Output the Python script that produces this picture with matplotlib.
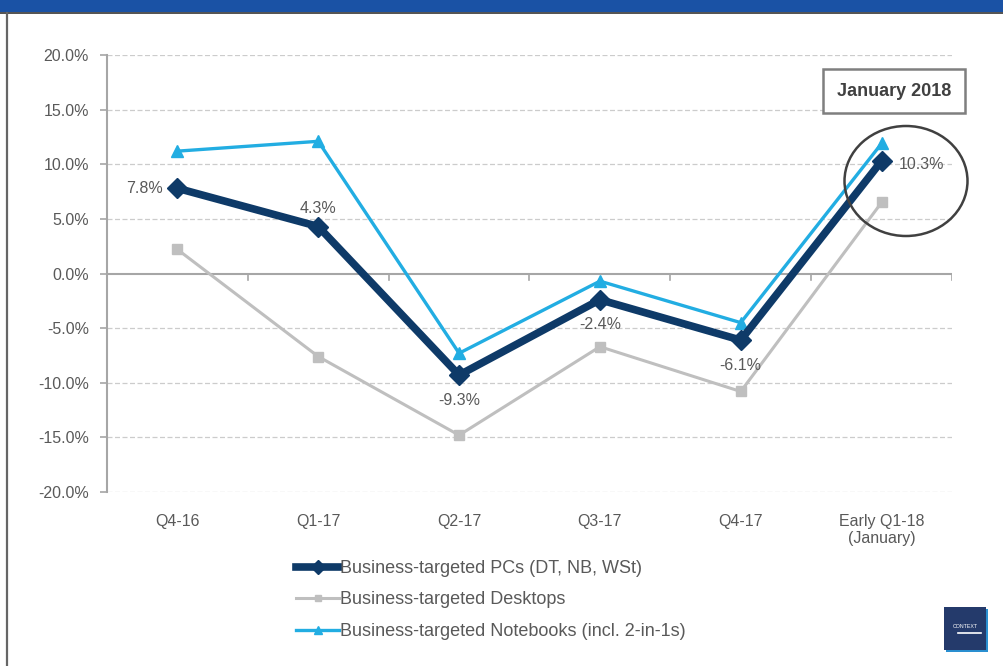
import matplotlib
matplotlib.use("Agg")
import matplotlib.pyplot as plt
from matplotlib.patches import Rectangle, Ellipse
from matplotlib.lines import Line2D

plt.rcParams['font.family'] = ['Liberation Sans', 'DejaVu Sans']

categories = ["Q4-16", "Q1-17", "Q2-17", "Q3-17", "Q4-17", "Early Q1-18\n(January)"]
pcs = [7.8, 4.3, -9.3, -2.4, -6.1, 10.3]
desktops = [2.2, -7.6, -14.8, -6.7, -10.8, 6.5]
notebooks = [11.2, 12.1, -7.3, -0.7, -4.5, 11.9]
pc_labels = ["7.8%", "4.3%", "-9.3%", "-2.4%", "-6.1%", "10.3%"]
yticks = [20, 15, 10, 5, 0, -5, -10, -15, -20]
series_names = ["Business-targeted PCs (DT, NB, WSt)",
                "Business-targeted Desktops",
                "Business-targeted Notebooks (incl. 2-in-1s)"]

C_PC = "#0e3a68"
C_DT = "#bfbfbf"
C_NB = "#22ade2"
TXT = "#595959"

fig = plt.figure(figsize=(10.04, 6.66), dpi=100)
fig.patch.set_facecolor("white")

# top banner and frame lines
fig.add_artist(Rectangle((0, 1 - 12/666), 1, 12/666, transform=fig.transFigure,
                         facecolor="#1a52a5", edgecolor="none"))
fig.add_artist(Line2D([0, 1], [1 - 13/666, 1 - 13/666], transform=fig.transFigure,
                      color="#333333", lw=1.2))
fig.add_artist(Line2D([6.5/1004, 6.5/1004], [0, 1 - 13/666], transform=fig.transFigure,
                      color="#666666", lw=1.6))

ax = fig.add_axes([107/1004, 1 - 492/666, (952 - 107)/1004, (492 - 55)/666])
x = list(range(len(categories)))

ax.set_xlim(-0.5, len(categories) - 0.5)
ax.set_ylim(-20, 20)

for y in yticks:
    if y == 0:
        ax.axhline(0, color="#a6a6a6", lw=1.5, zorder=1)
    else:
        ax.axhline(y, color="#cccccc", lw=0.9, ls=(0, (4, 2)), zorder=1)

# category boundary ticks on zero line
for b in range(len(categories) + 1):
    ax.plot([b - 0.5, b - 0.5], [0, -0.6], color="#a6a6a6", lw=1.2, zorder=1)

ax.plot(x, desktops, color=C_DT, lw=2.2, marker="s", ms=7, zorder=3, label=series_names[1])
ax.plot(x, notebooks, color=C_NB, lw=2.4, marker="^", ms=8, zorder=4, label=series_names[2])
ax.plot(x, pcs, color=C_PC, lw=5.5, marker="D", ms=10, zorder=5, label=series_names[0])

offsets = [(-0.1, 0, "right", "center"), (0, 1.0, "center", "bottom"),
           (0, -1.6, "center", "top"), (0, -1.6, "center", "top"),
           (0, -1.6, "center", "top"), (0.12, -0.3, "left", "center")]
for xi, yi, lab, (dx, dy, ha, va) in zip(x, pcs, pc_labels, offsets):
    ax.text(xi + dx, yi + dy, lab, ha=ha, va=va, fontsize=11.5, color=TXT, zorder=6)

ax.set_yticks(yticks)
ax.set_yticklabels([f"{v:.1f}%" for v in yticks], fontsize=11.5, color=TXT)
ax.set_xticks(x)
ax.set_xticklabels(categories, fontsize=11.5, color=TXT, linespacing=1.15)
ax.tick_params(axis="x", length=0, pad=16)
ax.tick_params(axis="y", length=5, color="#a6a6a6", width=1.2, pad=8)
for s in ["top", "right", "bottom"]:
    ax.spines[s].set_visible(False)
ax.spines["left"].set_color("#a6a6a6")
ax.spines["left"].set_linewidth(1.5)
ax.set_facecolor("none")

# annotation box and ellipse
fig.text(894/1004, 1 - 91/666, "January 2018", ha="center", va="center", fontsize=13,
         fontweight="bold", color="#404040",
         bbox=dict(boxstyle="square,pad=0.75", facecolor="white", edgecolor="#7f7f7f", lw=1.8))
fig.add_artist(Ellipse((906/1004, 1 - 181/666), 123/1004, 110/666, transform=fig.transFigure,
                       facecolor="none", edgecolor="#404040", lw=1.8, zorder=10))

# legend
handles, labels = ax.get_legend_handles_labels()
order = [2, 0, 1]
leg = fig.legend([handles[i] for i in order], [labels[i] for i in order],
                 loc="upper left", bbox_to_anchor=(296/1004, 1 - 560/666),
                 frameon=False, fontsize=13, handlelength=2.4, handletextpad=0.05,
                 labelspacing=0.8, borderpad=0, borderaxespad=0, markerscale=0.7)
for t in leg.get_texts():
    t.set_color(TXT)

# logo
fig.add_artist(Rectangle((946/1004, 1 - 652/666), 42/1004, 43/666, transform=fig.transFigure,
                         facecolor="#2a8fd0", edgecolor="none"))
fig.add_artist(Rectangle((944/1004, 1 - 650/666), 42/1004, 43/666, transform=fig.transFigure,
                         facecolor="#243a6b", edgecolor="none"))
fig.text(965/1004, 1 - 626/666, "CONTEXT", ha="center", va="center", fontsize=3.8,
         color="white")
fig.add_artist(Line2D([958/1004, 981/1004], [1 - 633/666, 1 - 633/666],
                      transform=fig.transFigure, color="white", lw=1.2))

fig.savefig("out.png", dpi=100, facecolor="white")
